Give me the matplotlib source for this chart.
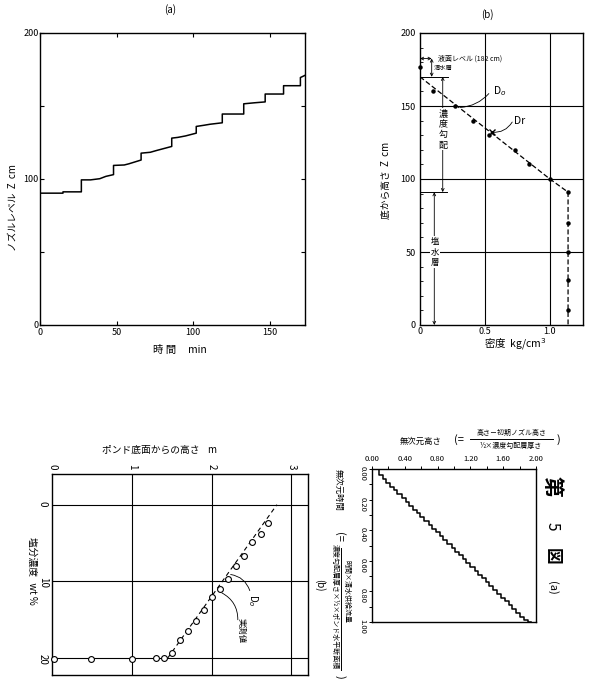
import matplotlib
matplotlib.use("Agg")
import matplotlib.pyplot as plt
from matplotlib.lines import Line2D
from matplotlib.ticker import FixedLocator, FixedFormatter, MultipleLocator

plt.rcParams['font.family'] = ['Noto Sans CJK JP', 'DejaVu Sans']
plt.rcParams['axes.linewidth'] = 1.0

W, H = 595, 695

# ---------------- data ----------------
# (a) nozzle level vs time
time_min = [0, 15, 15, 27, 27, 33, 39, 43, 48, 48, 55, 58, 66, 66, 72, 76, 86, 86,
            90, 95, 102, 102, 107, 111, 119, 119, 133, 133, 140, 147, 147, 159, 159,
            170, 170, 173]
level_cm = [90.3, 90.3, 91.2, 91.2, 99.4, 99.4, 100.2, 101.8, 103.0, 109.3, 109.6,
            110.4, 113.0, 117.7, 118.3, 119.5, 122.3, 128.0, 128.5, 129.5, 131.4,
            136.0, 136.8, 137.5, 138.5, 144.5, 144.5, 151.5, 152.2, 152.8, 158.2,
            158.2, 163.9, 163.9, 169.5, 171.0]

# (b) density profile
rho_meas = [0.0, 0.10, 0.27, 0.405, 0.53, 0.73, 0.84, 1.0, 1.14, 1.14, 1.14, 1.14, 1.14]
z_meas = [177, 160, 150, 140, 130, 120, 110.5, 100, 91, 70, 50, 30.5, 10]
rho_do = [0.0, 1.0, 1.14, 1.14]
z_do = [170, 100, 91, 0]
rho_dr, z_dr = 0.555, 132

# bottom-left: salinity vs height
height_m = [0.02, 0.49, 1.0, 1.30, 1.40, 1.51, 1.60, 1.71, 1.81, 1.91, 2.01, 2.11,
            2.21, 2.31, 2.41, 2.51, 2.62, 2.71]
salinity = [20.1, 20.1, 20.1, 20.0, 20.0, 19.3, 17.6, 16.4, 15.1, 13.7, 12.0, 11.0,
            9.65, 7.96, 6.74, 4.9, 3.8, 2.4]
do_height = [1.45, 2.82]
do_salinity = [20.0, 0.0]

# bottom-right: dimensionless nozzle height vs dimensionless time
stair_height = [0.00, 0.08, 0.13, 0.17, 0.22, 0.27, 0.31, 0.36, 0.41, 0.45, 0.50,
                0.55, 0.59, 0.64, 0.69, 0.73, 0.78, 0.83, 0.87, 0.92, 0.97, 1.01,
                1.06, 1.11, 1.15, 1.20, 1.25, 1.29, 1.34, 1.39, 1.43, 1.48, 1.53,
                1.57, 1.62, 1.67, 1.71, 1.76, 1.81, 1.85, 1.90, 1.94]
stair_time = [0.000, 0.040, 0.065, 0.090, 0.115, 0.140, 0.165, 0.190, 0.215, 0.240,
              0.265, 0.290, 0.315, 0.340, 0.365, 0.390, 0.415, 0.440, 0.465, 0.490,
              0.515, 0.540, 0.565, 0.590, 0.615, 0.640, 0.665, 0.690, 0.715, 0.740,
              0.765, 0.790, 0.815, 0.840, 0.865, 0.890, 0.915, 0.940, 0.965, 0.990,
              1.000, 1.000]

# ---------------- figure ----------------
fig = plt.figure(figsize=(W / 100, H / 100), dpi=100)


def box(l, t, r, b):
    return [l / W, 1 - b / H, (r - l) / W, (b - t) / H]


def ftext(x, y, s, **kw):
    kw.setdefault('ha', 'center')
    kw.setdefault('va', 'center')
    return fig.text(x / W, 1 - y / H, s, **kw)


def fline(x0, y0, x1, y1, lw=0.7):
    fig.add_artist(Line2D([x0 / W, x1 / W], [1 - y0 / H, 1 - y1 / H], lw=lw, color='black'))


# ---- (a) ----
axa = fig.add_axes(box(40, 33, 305, 325))
axa.plot(time_min, level_cm, color='black', lw=1.1)
axa.set_xlim(0, 173)
axa.set_ylim(0, 200)
axa.xaxis.set_major_locator(FixedLocator([0, 50, 100, 150]))
axa.yaxis.set_major_locator(FixedLocator([0, 50, 100, 150, 200]))
axa.yaxis.set_major_formatter(FixedFormatter(['0', '', '100', '', '200']))
axa.tick_params(direction='in', length=3, width=0.8, labelsize=6.5, top=True, right=True, pad=2)
axa.tick_params(axis='y', pad=1)
ftext(170, 10, '(a)', fontsize=7)
ftext(13, 208, 'ノズルレベル  Z  cm', rotation=90, fontsize=7)
ftext(180, 350, '時 間     min', fontsize=7.5)

# ---- (b) ----
axb = fig.add_axes(box(420, 33, 583, 325))
axb.set_xlim(0, 1.255)
axb.set_ylim(0, 200)
for v in [0.5, 1.0]:
    axb.axvline(v, color='black', lw=0.8, zorder=1)
for v in [50, 100, 150]:
    axb.axhline(v, color='black', lw=0.8, zorder=1)
axb.plot(rho_do, z_do, color='black', lw=0.9, ls=(0, (4, 2)), zorder=3)
axb.plot(rho_meas, z_meas, 'o', color='black', ms=2.2, zorder=4, clip_on=False)
axb.plot([rho_dr], [z_dr], 'x', color='black', ms=4, mew=1.0, zorder=4)
axb.xaxis.set_major_locator(FixedLocator([0, 0.5, 1.0]))
axb.xaxis.set_major_formatter(FixedFormatter(['0', '0.5', '1.0']))
axb.yaxis.set_major_locator(FixedLocator([0, 50, 100, 150, 200]))
axb.yaxis.set_minor_locator(MultipleLocator(10))
axb.tick_params(which='major', length=0, labelsize=6.5, pad=3)
axb.tick_params(axis='x', which='major', pad=1.5)
axb.tick_params(axis='y', which='minor', direction='in', length=2, width=0.6)
axb.tick_params(axis='x', which='minor', length=0)

# dimension lines
arr = dict(arrowstyle='<->', lw=0.6, color='black', mutation_scale=5, shrinkA=0, shrinkB=0)
axb.annotate('', xy=(0.0, 182.5), xytext=(0.09, 182.5), arrowprops=arr)
axb.annotate('', xy=(0.09, 182.5), xytext=(0.09, 170), arrowprops=arr)
axb.annotate('', xy=(0.175, 170), xytext=(0.175, 91), arrowprops=arr)
axb.annotate('', xy=(0.11, 91), xytext=(0.11, 0), arrowprops=arr)
axb.plot([0, 0.215], [170, 170], color='black', lw=0.7)
axb.plot([0, 0.205], [91, 91], color='black', lw=0.7)
axb.text(0.135, 182.5, '液面レベル (182 cm)', fontsize=5, ha='left', va='center')
axb.text(0.105, 176, '清水層', fontsize=4.5, ha='left', va='center')
axb.text(0.178, 134, '濃\n度\n勾\n配', fontsize=6.5, ha='center', va='center', linespacing=1.25,
         bbox=dict(facecolor='white', edgecolor='none', pad=0.3), zorder=5)
axb.text(0.115, 50, '塩\n水\n層', fontsize=6, ha='center', va='center', linespacing=1.25,
         bbox=dict(facecolor='white', edgecolor='none', pad=0.3), zorder=5)
lead = dict(arrowstyle='-', lw=0.6, color='black', connectionstyle='arc3,rad=-0.2', shrinkA=0, shrinkB=0)
axb.annotate('', xy=(0.31, 149), xytext=(0.53, 158.5), arrowprops=lead)
axb.text(0.56, 160, 'D$_o$', fontsize=7.5, ha='left', va='center')
axb.annotate('', xy=(0.555, 132), xytext=(0.71, 139),
             arrowprops=dict(arrowstyle='-', lw=0.6, color='black', connectionstyle='arc3,rad=-0.3',
                             shrinkA=0, shrinkB=0))
axb.text(0.72, 140, 'Dr', fontsize=7.5, ha='left', va='center')
ftext(487, 15, '(b)', fontsize=7)
ftext(386, 180, '底から高さ  Z  cm', rotation=90, fontsize=7)
ftext(515, 344, '密度  kg/cm$^3$', fontsize=7.5)

# ---- bottom-left ----
axc = fig.add_axes(box(52, 474, 308, 675))
axc.set_xlim(0, 3.21)
axc.set_ylim(22.2, -4.0)
for v in [1, 2, 3]:
    axc.axvline(v, color='black', lw=0.8, zorder=1)
for v in [0, 10, 20]:
    axc.axhline(v, color='black', lw=0.8, zorder=1)
axc.plot(do_height, do_salinity, color='black', lw=0.8, ls=(0, (4, 3)), zorder=2)
axc.plot(height_m, salinity, 'o', mfc='white', mec='black', ms=4.2, mew=0.8, zorder=4, clip_on=False)
axc.xaxis.tick_top()
axc.xaxis.set_major_locator(FixedLocator([0, 1, 2, 3]))
axc.yaxis.set_major_locator(FixedLocator([0, 10, 20]))
axc.tick_params(length=0, labelsize=7, pad=3)
for lbl in axc.get_xticklabels():
    lbl.set_rotation(-90)
for lbl in axc.get_yticklabels():
    lbl.set_rotation(-90)
lead2 = dict(arrowstyle='-', lw=0.6, color='black', connectionstyle='arc3,rad=0.3', shrinkA=0, shrinkB=0)
axc.annotate('', xy=(2.24, 9.1), xytext=(2.48, 11.2), arrowprops=lead2)
axc.text(2.52, 12.4, 'D$_o$', fontsize=7, rotation=-90, ha='center', va='center')
axc.annotate('', xy=(2.13, 11.5), xytext=(2.33, 15.0), arrowprops=lead2)
axc.text(2.37, 16.4, '実測値', fontsize=6, rotation=-90, ha='center', va='center')
ftext(160, 450, 'ポンド底面からの高さ    m', fontsize=7)
ftext(32, 571, '塩分濃度   wt %', rotation=-90, fontsize=7)
ftext(320, 585, '(b)', rotation=-90, fontsize=7)

# ---- bottom-right ----
axd = fig.add_axes(box(372, 469, 536, 622))
axd.step(stair_height, stair_time, where='post', color='black', lw=1.1)
axd.set_xlim(0, 2.0)
axd.set_ylim(1.0, 0)
axd.xaxis.tick_top()
axd.xaxis.set_minor_locator(MultipleLocator(0.2))
axd.xaxis.set_major_locator(FixedLocator([0, 0.4, 0.8, 1.2, 1.6, 2.0]))
axd.xaxis.set_major_formatter(FixedFormatter(['0.00', '0.40', '0.80', '1.20', '1.60', '2.00']))
axd.yaxis.set_major_locator(FixedLocator([0, 0.2, 0.4, 0.6, 0.8, 1.0]))
axd.yaxis.set_major_formatter(FixedFormatter(['0.00', '0.20', '0.40', '0.60', '0.80', '1.00']))
axd.yaxis.set_minor_locator(MultipleLocator(0.1))
axd.tick_params(which='both', direction='out', length=2.5, width=0.7, labelsize=5.5, pad=1.5)
for lbl in axd.get_yticklabels():
    lbl.set_rotation(-90)

# top label of bottom-right
ftext(421, 441, '無次元高さ', fontsize=6)
ftext(459, 440, '(=', fontsize=8)
ftext(512, 433, '高さ－初期ノズル高さ', fontsize=5)
fline(470, 439, 553, 439)
ftext(511, 446, '½×濃度勾配層厚さ', fontsize=5)
ftext(558, 440, ')', fontsize=8)

# left label of bottom-right (rotated)
ftext(338, 490, '無次元時間', rotation=-90, fontsize=6)
ftext(339, 537, '(=', rotation=-90, fontsize=8)
ftext(347, 591, '時間×清水供給流量', rotation=-90, fontsize=5)
fline(341, 548, 341, 670)
ftext(335, 607, '濃度勾配層厚さ×½×ポンド水平断面積', rotation=-90, fontsize=5)
ftext(340, 677, ')', rotation=-90, fontsize=8)

# figure caption (rotated)
ftext(552, 486, '第', rotation=-90, fontsize=15, fontweight='bold')
ftext(552, 526, '5', rotation=-90, fontsize=11)
ftext(552, 556, '図', rotation=-90, fontsize=12, fontweight='bold')
ftext(552, 588, '(a)', rotation=-90, fontsize=8)

fig.savefig('out.png', dpi=100)
